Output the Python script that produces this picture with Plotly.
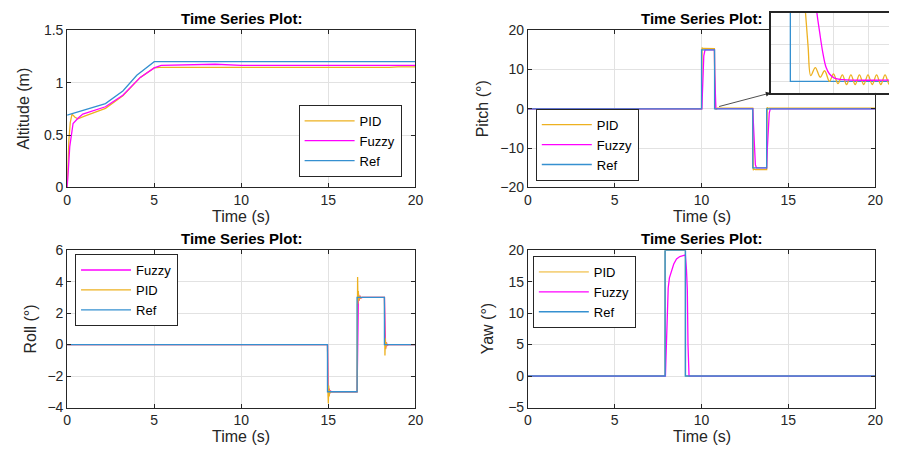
import plotly.graph_objects as go

# ---------------- data ----------------
# Altitude (m)
alt_ref_t = [0, 2.2, 3.2, 4.0, 5.0, 20]
alt_ref = [0.69, 0.80, 0.92, 1.07, 1.20, 1.20]
alt_pid_t = [0, 0.02, 0.05, 0.1, 0.18, 0.28, 0.45, 0.62, 1.0, 2.2, 3.2, 4.2, 5.0, 5.3, 18.5, 19.0, 20]
alt_pid = [0, 0.10, 0.20, 0.45, 0.62, 0.70, 0.67, 0.655, 0.68, 0.755, 0.875, 1.05, 1.14, 1.145, 1.145, 1.15, 1.15]
alt_fuz_t = [0, 0.03, 0.08, 0.15, 0.25, 0.34, 0.62, 0.9, 2.2, 3.2, 4.2, 5.0, 5.4, 8.5, 10, 20]
alt_fuz = [0, 0.05, 0.20, 0.39, 0.53, 0.61, 0.66, 0.70, 0.77, 0.88, 1.05, 1.14, 1.165, 1.175, 1.165, 1.165]

# Pitch (deg)
pitch_ref_t = [0, 10.0, 10.75, 12.95, 13.75, 20]
pitch_ref = [0, 15, 0, -15, 0, 0]
pitch_pid_t = [0, 10.0, 10.01, 10.03, 10.06, 10.1, 10.5, 10.74, 10.755, 10.765,
               10.77143, 10.77571, 10.77957, 10.78614, 10.79329, 10.79957, 10.80671,
               10.81243, 10.819, 10.82529, 10.83143, 10.83771, 10.84386, 10.85,
               10.85629, 10.86243, 10.86857, 10.87486, 10.881, 10.88714, 10.89343,
               10.89957, 11.0, 12.95, 12.96, 12.98, 13.02, 13.1, 13.75, 13.76, 13.78,
               13.82, 13.9, 20]
pitch_pid = [0, 0, 8, 15.6, 15.2, 15.35, 15.3, 15.3, 9.0, 3.6,
             2.0, 0.947, 0.158, 0.376, 0.113, 0.289, 0.0,
             0.203, -0.061, 0.176, -0.087, 0.176, -0.087, 0.176,
             -0.087, 0.176, -0.087, 0.176, -0.087, 0.176, -0.087,
             0.176, 0.2, 0.2, -8, -15.6, -15.3, -15.45, -15.45, -8, 0.4,
             0.1, 0.2, 0.2]
pitch_fuz_t = [0, 10.02, 10.05, 10.09, 10.13, 10.2, 10.74, 10.76, 10.775,
               10.78757, 10.79243, 10.79714, 10.80186, 10.80671, 10.81386, 10.82571,
               10.9, 12.95, 12.99, 13.04, 13.1, 13.16, 13.75, 13.79, 13.84, 13.9,
               13.96, 20]
pitch_fuz = [0, 0, 4, 10, 13.5, 15.0, 15.0, 9, 4.5,
             2.0, 1.34, 0.77, 0.376, 0.2, 0.087, 0.045,
             0.03, 0.03, -4, -11, -14.2, -15.0, -15.0, -10, -4, -1,
             0.0, 0.0]

# Roll (deg)
roll_ref_t = [0, 14.95, 16.65, 18.22, 20]
roll_ref = [0, -3, 3, 0, 0]
roll_pid_t = [0, 14.95, 14.98, 15.0, 15.02, 15.05, 15.08, 15.12, 15.2, 16.65, 16.68,
              16.70, 16.72, 16.75, 16.8, 16.85, 16.9, 18.22, 18.25, 18.27, 18.29,
              18.32, 18.36, 18.42, 20]
roll_pid = [0, 0, -3.2, -3.75, -2.6, -3.3, -2.9, -3.05, -3.0, -3.0, 4.3,
            2.6, 3.4, 2.8, 3.1, 2.95, 3.0, 3.0, -0.7, 0.4, -0.3,
            0.15, -0.05, 0.0, 0.0]
roll_fuz_t = [0, 14.95, 14.99, 15.02, 15.05, 15.08, 15.12, 15.2, 16.65, 16.69, 16.73,
              16.77, 16.81, 16.86, 16.95, 18.22, 18.26, 18.29, 18.33, 18.38, 18.45, 20]
roll_fuz = [0, 0, -2.6, -3.2, -2.8, -3.1, -2.95, -3.0, -3.0, 2.6, 3.2,
            2.8, 3.1, 2.95, 3.0, 3.0, 0.4, -0.25, 0.15, -0.05, 0.0, 0.0]

# Yaw (deg)
yaw_ref_t = [0, 7.9, 9.07, 20]
yaw_ref = [0, 20, 0, 0]
yaw_pid_t = [0, 7.9, 9.07, 20]
yaw_pid = [0, 20, 0, 0]
yaw_fuz_t = [0, 7.92, 7.94, 7.97, 8.0, 8.04, 8.08, 8.15, 8.28, 8.4, 8.56, 8.75, 9.03,
             9.07, 9.13, 9.18, 9.22, 9.25, 9.28, 20]
yaw_fuz = [0, 0, 1.75, 5, 8.5, 11.5, 14.0, 15.6, 16.8, 17.8, 18.6, 19.0, 19.2,
           19.2, 17, 13.8, 5, 2.5, 0, 0]

# ---------------- style ----------------
C_PID = "#EDB120"
C_FUZ = "#FF00FF"
C_REF = "#3590D0"
FONT = "Liberation Sans, Arial, sans-serif"
AX_COL = "#262626"
GRID = "#E2E2E2"
LW = 1.3

W, H = 897, 457


def px_x(p):
    return p / W


def px_y(p):
    return 1 - p / H


fig = go.Figure()


def add(t, v, name, color, xa, ya, legend, show=True, shape="linear", width=LW):
    fig.add_trace(go.Scatter(
        x=t, y=v, name=name, mode="lines",
        line=dict(color=color, width=width, shape=shape),
        xaxis=xa, yaxis=ya, legend=legend, showlegend=show,
        hoverinfo="skip"))


# Altitude
add(alt_pid_t, alt_pid, "PID", C_PID, "x", "y", "legend")
add(alt_fuz_t, alt_fuz, "Fuzzy", C_FUZ, "x", "y", "legend")
add(alt_ref_t, alt_ref, "Ref", C_REF, "x", "y", "legend")
# Pitch
add(pitch_pid_t, pitch_pid, "PID", C_PID, "x2", "y2", "legend2")
add(pitch_fuz_t, pitch_fuz, "Fuzzy", C_FUZ, "x2", "y2", "legend2")
add(pitch_ref_t, pitch_ref, "Ref", C_REF, "x2", "y2", "legend2", shape="hv")
# Roll
add(roll_fuz_t, roll_fuz, "Fuzzy", C_FUZ, "x3", "y3", "legend3")
add(roll_pid_t, roll_pid, "PID", C_PID, "x3", "y3", "legend3")
add(roll_ref_t, roll_ref, "Ref", C_REF, "x3", "y3", "legend3", shape="hv")
# Yaw (PID tracks the reference and sits underneath it)
add(yaw_pid_t, yaw_pid, "PID", C_PID, "x4", "y4", "legend4", shape="hv", width=1.0)
add(yaw_fuz_t, yaw_fuz, "Fuzzy", C_FUZ, "x4", "y4", "legend4")
add(yaw_ref_t, yaw_ref, "Ref", C_REF, "x4", "y4", "legend4", shape="hv", width=1.5)
# Pitch zoom inset (falling edge after the first pulse)
add(pitch_ref_t, pitch_ref, "Ref", C_REF, "x5", "y5", "legend2", show=False, shape="hv")
add(pitch_pid_t, pitch_pid, "PID", C_PID, "x5", "y5", "legend2", show=False, shape="spline")
add(pitch_fuz_t, pitch_fuz, "Fuzzy", C_FUZ, "x5", "y5", "legend2", show=False, shape="spline")

xl, xr = px_x(64), px_x(417)
xl2, xr2 = px_x(531), px_x(883)
yt_top, yb_top = px_y(23), px_y(186)
yt_bot, yb_bot = px_y(251), px_y(414)

base_axis = dict(
    showline=True, linecolor=AX_COL, linewidth=1, mirror="ticks",
    ticks="inside", ticklen=4, tickcolor=AX_COL,
    showgrid=True, gridcolor=GRID, gridwidth=1, zeroline=False,
    tickfont=dict(family=FONT, size=14, color=AX_COL),
    fixedrange=True,
)

xticks = [0, 5, 10, 15, 20]


def xa(domain, anchor):
    return dict(base_axis, domain=domain, anchor=anchor, range=[0, 20], tickvals=xticks)


def ya(domain, anchor, rng, vals, text=None):
    d = dict(base_axis, domain=domain, anchor=anchor, range=rng, tickvals=vals)
    if text is not None:
        d["ticktext"] = text
    return d


legend_base = dict(
    bgcolor="white", bordercolor=AX_COL, borderwidth=1,
    font=dict(family=FONT, size=13, color="#000"),
    itemwidth=50, tracegroupgap=0, xref="paper", yref="paper",
)

fig.update_layout(
    width=W, height=H, margin=dict(l=0, r=0, t=0, b=0),
    paper_bgcolor="white", plot_bgcolor="white",
    xaxis=xa([xl, xr], "y"),
    yaxis=ya([yb_top, yt_top], "x", [0, 1.5], [0, 0.5, 1, 1.5], ["0", "0.5", "1", "1.5"]),
    xaxis2=xa([xl2, xr2], "y2"),
    yaxis2=ya([yb_top, yt_top], "x2", [-20, 20], [-20, -10, 0, 10, 20]),
    xaxis3=xa([xl, xr], "y3"),
    yaxis3=ya([yb_bot, yt_bot], "x3", [-4, 6], [-4, -2, 0, 2, 4, 6]),
    xaxis4=xa([xl2, xr2], "y4"),
    yaxis4=ya([yb_bot, yt_bot], "x4", [-5, 20], [-5, 0, 5, 10, 15, 20]),
    xaxis5=dict(domain=[px_x(777), 1.0], anchor="y5",
                range=[10.75 - 20 / 700, 10.75 + 100 / 700],
                tickvals=[10.75 + 9 / 700, 10.75 + 44 / 700, 10.75 + 79 / 700],
                showticklabels=False, ticks="", showgrid=True, gridcolor=GRID,
                showline=True, mirror=True, linecolor=AX_COL, linewidth=1.5,
                zeroline=False, fixedrange=True),
    yaxis5=dict(domain=[px_y(88), px_y(5)], anchor="x5",
                range=[-12 / 38, 71 / 38], tickvals=[0, 0.5, 1.0, 1.5],
                showticklabels=False, ticks="", showgrid=True, gridcolor=GRID,
                showline=True, mirror=False, linecolor=AX_COL, linewidth=1.5,
                zeroline=False, fixedrange=True),
    legend=dict(legend_base, x=px_x(403), xanchor="right", y=px_y(175), yanchor="bottom"),
    legend2=dict(legend_base, x=px_x(539), xanchor="left", y=px_y(179), yanchor="bottom"),
    legend3=dict(legend_base, x=px_x(72), xanchor="left", y=px_y(255), yanchor="top"),
    legend4=dict(legend_base, x=px_x(536), xanchor="left", y=px_y(257), yanchor="top"),
    showlegend=True,
)

# Titles and axis labels
ann = []
title_font = dict(family=FONT, size=15, color="#000")
label_font = dict(family=FONT, size=16, color=AX_COL)
for cx, cy in [((64 + 417) / 2, 11), ((531 + 883) / 2, 11),
               ((64 + 417) / 2, 239), ((531 + 883) / 2, 239)]:
    ann.append(dict(text="<b>Time Series Plot:</b>", x=px_x(cx), y=px_y(cy),
                    xref="paper", yref="paper", showarrow=False,
                    xanchor="center", yanchor="middle", font=title_font))
for cx, cy in [((64 + 417) / 2, 216), ((531 + 883) / 2, 216),
               ((64 + 417) / 2, 444), ((531 + 883) / 2, 444)]:
    ann.append(dict(text="Time (s)", x=px_x(cx), y=px_y(cy), xref="paper", yref="paper",
                    showarrow=False, xanchor="center", yanchor="middle", font=label_font))
for txt, cx, cy in [("Altitude (m)", 20, 104.5), ("Pitch (°)", 485, 104.5),
                    ("Roll (°)", 27, 332.5), ("Yaw (°)", 490, 332.5)]:
    ann.append(dict(text=txt, x=px_x(cx), y=px_y(cy), xref="paper", yref="paper",
                    showarrow=False, xanchor="center", yanchor="middle",
                    textangle=-90, font=label_font))
# pointer from the pitch trace to the zoomed view
ann.append(dict(text="", x=px_x(777), y=px_y(88), ax=724 - 777, ay=102 - 88,
                xref="paper", yref="paper", axref="pixel", ayref="pixel",
                showarrow=True, arrowhead=2, arrowsize=1.2, arrowwidth=0.8,
                arrowcolor="#222"))
fig.update_layout(annotations=ann)

fig.write_html("out.html")
